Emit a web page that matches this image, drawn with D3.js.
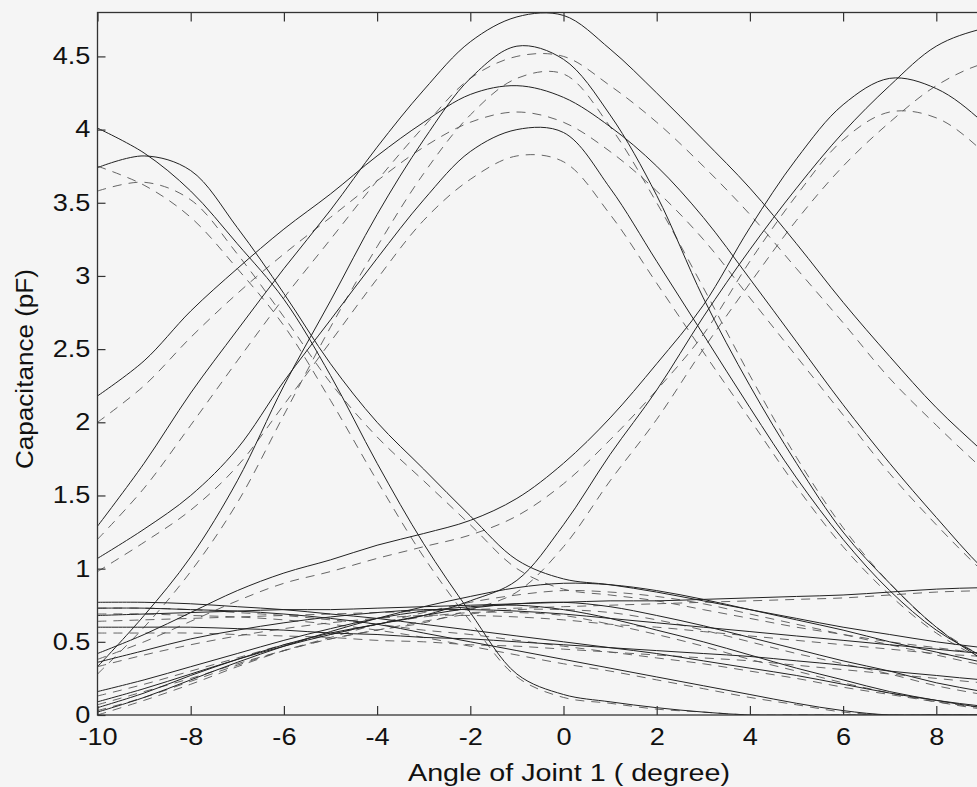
<!DOCTYPE html>
<html>
<head>
<meta charset="utf-8">
<script src="https://cdn.jsdelivr.net/npm/d3@7"></script>
<style>
  body { margin: 0; background: #f5f5f5; }
  svg { display: block; }
  text { font-family: "Liberation Sans", Arial, sans-serif; fill: #111; }
</style>
</head>
<body>
<div id="chart"></div>
<script>
// joint angle samples (degree)
let angles = [-10, -9, -8, -7, -6, -5, -4, -3, -2, -1, 0, 1, 2, 3, 4, 5, 6, 7, 8, 9, 10];

// the 10 tick lies outside the cropped figure
let xTickValues = [-10, -8, -6, -4, -2, 0, 2, 4, 6, 8];
let yTickValues = [0, 0.5, 1, 1.5, 2, 2.5, 3, 3.5, 4, 4.5];

// measured capacitance (solid) and model (dashed), pF
let peakA = [1.29, 1.72, 2.2, 2.63, 3.05, 3.45, 3.88, 4.27, 4.6, 4.77, 4.78, 4.55, 4.25, 3.93, 3.6, 3.22, 2.82, 2.45, 2.1, 1.8, 1.5];
let peakA_model = [1.2, 1.55, 1.98, 2.42, 2.85, 3.25, 3.65, 4.02, 4.35, 4.5, 4.5, 4.3, 4.05, 3.75, 3.42, 3.05, 2.68, 2.3, 1.98, 1.68, 1.4];
let peakB = [0.33, 0.68, 1.08, 1.6, 2.25, 2.83, 3.42, 3.93, 4.35, 4.57, 4.48, 4.1, 3.55, 2.85, 2.25, 1.72, 1.25, 0.9, 0.6, 0.38, 0.22];
let peakB_model = [0.28, 0.6, 0.98, 1.45, 2.05, 2.65, 3.2, 3.7, 4.1, 4.35, 4.38, 4.02, 3.5, 2.92, 2.32, 1.76, 1.28, 0.9, 0.6, 0.4, 0.25];
let peakC = [2.18, 2.42, 2.76, 3.05, 3.32, 3.56, 3.82, 4.05, 4.24, 4.3, 4.22, 4.02, 3.75, 3.4, 2.98, 2.55, 2.12, 1.72, 1.35, 1.0, 0.72];
let peakC_model = [2.0, 2.25, 2.58, 2.88, 3.15, 3.4, 3.65, 3.88, 4.05, 4.12, 4.05, 3.85, 3.58, 3.25, 2.85, 2.45, 2.05, 1.65, 1.3, 0.98, 0.7];
let peakD = [1.07, 1.27, 1.5, 1.82, 2.28, 2.7, 3.12, 3.52, 3.85, 4.0, 3.98, 3.6, 3.1, 2.6, 2.1, 1.62, 1.2, 0.85, 0.58, 0.4, 0.25];
let peakD_model = [0.98, 1.18, 1.4, 1.7, 2.12, 2.55, 2.98, 3.38, 3.66, 3.82, 3.78, 3.42, 2.95, 2.48, 2.02, 1.56, 1.15, 0.82, 0.56, 0.38, 0.24];
let peakE = [0.42, 0.55, 0.7, 0.85, 0.97, 1.06, 1.16, 1.24, 1.33, 1.48, 1.72, 2.03, 2.4, 2.8, 3.33, 3.8, 4.17, 4.35, 4.28, 4.05, 3.7];
let peakE_model = [0.38, 0.5, 0.64, 0.78, 0.9, 0.98, 1.07, 1.15, 1.23, 1.36, 1.58, 1.88, 2.22, 2.6, 3.1, 3.55, 3.93, 4.12, 4.08, 3.85, 3.5];
let peakF = [0.05, 0.15, 0.27, 0.38, 0.48, 0.56, 0.62, 0.68, 0.78, 0.92, 1.3, 1.78, 2.22, 2.72, 3.18, 3.6, 3.98, 4.3, 4.57, 4.69, 4.74];
let peakF_model = [0.03, 0.12, 0.23, 0.34, 0.44, 0.52, 0.58, 0.63, 0.72, 0.84, 1.15, 1.6, 2.02, 2.5, 2.95, 3.38, 3.75, 4.05, 4.3, 4.45, 4.5];
let fallG = [4.01, 3.84, 3.58, 3.22, 2.84, 2.32, 1.72, 1.17, 0.7, 0.28, 0.14, 0.09, 0.05, 0.02, 0.0, 0.0, 0.0, 0.0, 0.0, 0.0, 0.0];
let fallG_model = [3.75, 3.62, 3.4, 3.05, 2.66, 2.15, 1.6, 1.08, 0.64, 0.26, 0.12, 0.08, 0.04, 0.02, 0.0, 0.0, 0.0, 0.0, 0.0, 0.0, 0.0];
let fallH = [3.74, 3.82, 3.72, 3.33, 2.88, 2.4, 2.0, 1.68, 1.36, 1.06, 0.93, 0.89, 0.84, 0.78, 0.72, 0.66, 0.6, 0.55, 0.5, 0.46, 0.42];
let fallH_model = [3.58, 3.64, 3.52, 3.15, 2.72, 2.27, 1.9, 1.6, 1.3, 1.0, 0.86, 0.82, 0.78, 0.72, 0.66, 0.6, 0.55, 0.5, 0.46, 0.42, 0.38];

// low level electrodes
let lowM1 = [0.02, 0.12, 0.24, 0.36, 0.47, 0.57, 0.66, 0.74, 0.81, 0.87, 0.9, 0.89, 0.85, 0.79, 0.72, 0.65, 0.58, 0.5, 0.43, 0.36, 0.3];
let lowM1_model = [0.0, 0.1, 0.21, 0.33, 0.44, 0.53, 0.62, 0.7, 0.77, 0.82, 0.85, 0.84, 0.81, 0.76, 0.69, 0.62, 0.55, 0.48, 0.41, 0.34, 0.28];
let lowM2 = [0.09, 0.18, 0.28, 0.38, 0.47, 0.55, 0.62, 0.68, 0.73, 0.76, 0.77, 0.74, 0.68, 0.61, 0.53, 0.45, 0.37, 0.3, 0.22, 0.16, 0.1];
let lowM2_model = [0.07, 0.16, 0.25, 0.35, 0.44, 0.52, 0.58, 0.64, 0.69, 0.72, 0.72, 0.7, 0.65, 0.58, 0.5, 0.42, 0.35, 0.28, 0.2, 0.14, 0.09];
let lowM3 = [0.16, 0.24, 0.33, 0.42, 0.51, 0.59, 0.66, 0.71, 0.74, 0.75, 0.72, 0.66, 0.58, 0.5, 0.41, 0.32, 0.24, 0.16, 0.1, 0.05, 0.02];
let lowM3_model = [0.13, 0.21, 0.3, 0.39, 0.48, 0.55, 0.62, 0.67, 0.7, 0.7, 0.68, 0.62, 0.55, 0.47, 0.38, 0.3, 0.22, 0.15, 0.09, 0.04, 0.01];
let lowM4 = [0.77, 0.77, 0.76, 0.74, 0.72, 0.69, 0.66, 0.62, 0.58, 0.54, 0.5, 0.46, 0.42, 0.37, 0.32, 0.27, 0.21, 0.15, 0.1, 0.06, 0.03];
let lowM4_model = [0.73, 0.73, 0.72, 0.7, 0.68, 0.65, 0.62, 0.58, 0.55, 0.51, 0.47, 0.43, 0.39, 0.35, 0.3, 0.25, 0.19, 0.14, 0.09, 0.05, 0.02];
let lowM5 = [0.73, 0.73, 0.72, 0.71, 0.69, 0.66, 0.62, 0.56, 0.5, 0.44, 0.38, 0.32, 0.26, 0.2, 0.14, 0.08, 0.03, 0.0, 0.0, 0.0, 0.0];
let lowM5_model = [0.69, 0.69, 0.68, 0.67, 0.65, 0.62, 0.58, 0.53, 0.47, 0.41, 0.35, 0.3, 0.24, 0.18, 0.12, 0.07, 0.02, 0.0, 0.0, 0.0, 0.0];
let lowM6 = [0.6, 0.6, 0.6, 0.59, 0.58, 0.56, 0.55, 0.53, 0.52, 0.5, 0.48, 0.46, 0.44, 0.42, 0.4, 0.37, 0.34, 0.3, 0.27, 0.24, 0.22];
let lowM6_model = [0.56, 0.56, 0.56, 0.55, 0.54, 0.53, 0.51, 0.5, 0.48, 0.47, 0.45, 0.43, 0.41, 0.39, 0.37, 0.34, 0.31, 0.28, 0.25, 0.22, 0.2];
let lowM7 = [0.68, 0.69, 0.7, 0.71, 0.72, 0.72, 0.73, 0.74, 0.75, 0.76, 0.77, 0.78, 0.78, 0.79, 0.8, 0.81, 0.82, 0.84, 0.86, 0.87, 0.87];
let lowM7_model = [0.64, 0.65, 0.66, 0.67, 0.68, 0.69, 0.7, 0.71, 0.72, 0.73, 0.74, 0.75, 0.76, 0.77, 0.78, 0.79, 0.8, 0.82, 0.84, 0.85, 0.86];
let lowM8 = [0.36, 0.44, 0.52, 0.58, 0.63, 0.67, 0.7, 0.72, 0.72, 0.71, 0.69, 0.66, 0.63, 0.6, 0.57, 0.54, 0.51, 0.48, 0.45, 0.42, 0.4];
let lowM8_model = [0.33, 0.41, 0.48, 0.54, 0.59, 0.63, 0.66, 0.68, 0.68, 0.67, 0.65, 0.62, 0.6, 0.57, 0.54, 0.51, 0.48, 0.45, 0.42, 0.4, 0.38];

let solidSeries = [peakA, peakB, peakC, peakD, peakE, peakF, fallG, fallH,
  lowM1, lowM2, lowM3, lowM4, lowM5, lowM6, lowM7, lowM8];
let dashedSeries = [peakA_model, peakB_model, peakC_model, peakD_model, peakE_model, peakF_model, fallG_model, fallH_model,
  lowM1_model, lowM2_model, lowM3_model, lowM4_model, lowM5_model, lowM6_model, lowM7_model, lowM8_model];

let width = 977,
  height = 787;

// plot box; the right part of the axes falls outside the picture
let margin = {left: 97.5, top: 12.5};
let plotW = 932, plotH = 702.5;

// the scanned figure is a bit wider than tall, so the lettering is stretched
let fontStretch = 1.18;

let svg = d3.select("#chart").append("svg")
  .attr("width", width)
  .attr("height", height);

svg.append("rect").attr("width", width).attr("height", height).attr("fill", "#f5f5f5");

let g = svg.append("g").attr("transform", "translate(" + margin.left + "," + margin.top + ")");

let x = d3.scaleLinear().domain([-10, 10]).range([0, plotW]);
let y = d3.scaleLinear().domain([0, 4.8]).range([plotH, 0]);

svg.append("defs").append("clipPath").attr("id", "plotclip")
  .append("rect").attr("width", plotW).attr("height", plotH);

let line = d3.line()
  .x((d, i) => x(angles[i]))
  .y(d => y(d))
  .curve(d3.curveCatmullRom.alpha(0.5));

let curves = g.append("g").attr("clip-path", "url(#plotclip)");

curves.selectAll(".model").data(dashedSeries).join("path")
  .attr("class", "model")
  .attr("d", line)
  .attr("fill", "none")
  .attr("stroke", "#555")
  .attr("stroke-width", 0.9)
  .attr("stroke-dasharray", "9,7");

curves.selectAll(".meas").data(solidSeries).join("path")
  .attr("class", "meas")
  .attr("d", line)
  .attr("fill", "none")
  .attr("stroke", "#222")
  .attr("stroke-width", 1);

// frame
g.append("rect")
  .attr("width", plotW).attr("height", plotH)
  .attr("fill", "none").attr("stroke", "#333").attr("stroke-width", 1.3);

// ticks point inward, matlab style; plain hyphen minus like the figure
let fmt = d => String(d);
let xAxis = g.append("g").attr("transform", "translate(0," + plotH + ")")
  .call(d3.axisBottom(x).tickValues(xTickValues).tickFormat(fmt).tickSizeInner(-9).tickSizeOuter(0).tickPadding(14));
let xAxisTop = g.append("g")
  .call(d3.axisTop(x).tickValues(xTickValues).tickSizeInner(-9).tickSizeOuter(0).tickFormat(""));
let yAxis = g.append("g")
  .call(d3.axisLeft(y).tickValues(yTickValues).tickFormat(fmt).tickSizeInner(-8).tickSizeOuter(0).tickPadding(6));

[xAxis, xAxisTop, yAxis].forEach(a => {
  a.select(".domain").remove();
  a.selectAll(".tick line").attr("stroke", "#333").attr("stroke-width", 1.2);
  a.selectAll(".tick text").attr("font-size", 23).attr("fill", "#111")
    .attr("transform", "scale(" + fontStretch + ",1)")
    .style("font-family", "'Liberation Sans', Arial, sans-serif");
});

svg.append("text")
  .attr("x", 569).attr("y", 781)
  .attr("text-anchor", "middle")
  .attr("font-size", 23)
  .attr("textLength", 322)
  .attr("lengthAdjust", "spacingAndGlyphs")
  .text("Angle of Joint 1 ( degree)");

svg.append("text")
  .attr("transform", "translate(33,369) rotate(-90)")
  .attr("text-anchor", "middle")
  .attr("font-size", 23)
  .attr("textLength", 200)
  .attr("lengthAdjust", "spacingAndGlyphs")
  .text("Capacitance (pF)");
</script>
</body>
</html>
